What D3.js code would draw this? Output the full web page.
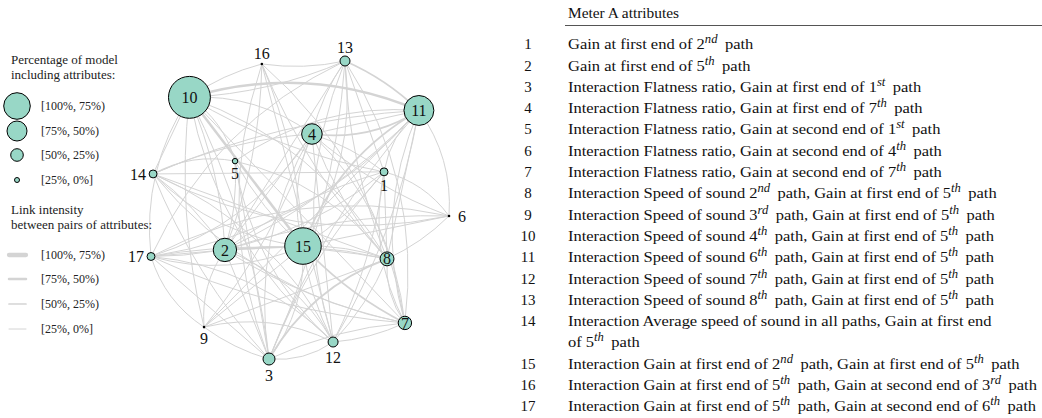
<!DOCTYPE html>
<html><head><meta charset="utf-8">
<script src="https://cdn.jsdelivr.net/npm/d3@7"></script>
<style>body{margin:0;background:#fff}svg{display:block}</style>
</head><body>
<svg id="c" width="1042" height="418"></svg>
<script>
// ---- data ----
const nodeIds = [1,2,3,4,5,6,7,8,9,10,11,12,13,14,15,16,17];
// layout coordinates (unit square, as produced by the graph layout)
const layoutX = [0.782,0.248,0.396,0.540,0.282,1.000,0.852,0.792,0.178,0.129,0.899,0.611,0.651,0.007,0.510,0.372,0.000];
const layoutY = [0.372,0.634,1.000,0.245,0.336,0.520,0.879,0.664,0.893,0.122,0.166,0.943,0.000,0.379,0.621,0.010,0.656];
// percentage of models including the attribute
const nodePct = [3.4,29.5,7.8,22.8,1.6,0.5,9.7,10.5,0.5,95,48.4,5.4,5.4,3.4,72,0.5,3.4];
// label placement for small nodes: c=center, t=top, b=bottom, l=left, r=right
const labelPos = ["b","c","b","c","b","r","c","c","b","c","c","b","t","l","c","t","l"];
// links: [source, target, intensity class 1..4]
const links = [
 [10,11,3],[10,15,3],[11,15,2],[13,11,2],[15,7,2],[3,8,2],[2,15,2],[4,11,2],
 [10,16,1],[10,13,1],[10,4,1],[10,14,1],[10,17,1],[10,2,1],[10,1,1],[10,8,1],[10,7,1],[10,12,1],[10,3,1],[10,9,1],[10,5,1],
 [11,4,1],[11,1,1],[11,2,1],[11,14,1],[11,17,1],[11,8,1],[11,7,1],[11,12,1],[11,3,1],[11,6,1],[11,9,1],[11,5,1],
 [13,16,1],[13,4,1],[13,15,1],[13,2,1],[13,12,1],[13,3,1],[13,8,1],[13,7,1],[13,1,1],[13,17,1],
 [16,15,1],[16,8,1],[16,7,1],[16,12,1],[16,3,1],[16,2,1],
 [4,14,1],[4,17,1],[4,2,1],[4,15,1],[4,1,1],[4,8,1],[4,7,1],[4,12,1],[4,3,1],[4,9,1],[4,6,1],
 [14,5,1],[14,1,1],[14,15,1],[14,2,1],[14,3,1],[14,12,1],[14,8,1],[14,7,1],
 [5,2,1],[5,15,1],[5,8,1],[5,3,1],[5,12,1],
 [1,15,1],[1,2,1],[1,17,1],[1,8,1],[1,7,1],[1,12,1],[1,3,1],[1,6,1],
 [6,15,1],[6,17,1],[6,8,1],[6,2,1],[6,14,1],
 [17,2,1],[17,15,1],[17,8,1],[17,7,1],[17,12,1],[17,3,1],[17,9,1],
 [2,8,1],[2,7,1],[2,12,1],[2,3,1],[2,9,1],
 [15,8,1],[15,12,1],[15,3,1],[15,9,1],
 [8,7,1],[8,12,1],[9,3,1],[9,12,1],[9,8,1],[3,12,1],[3,7,1],[12,7,1]
];
const sizeLegendLabels = ["[100%, 75%)","[75%, 50%)","[50%, 25%)","[25%, 0%]"];
const linkLegendLabels = ["[100%, 75%)","[75%, 50%)","[50%, 25%)","[25%, 0%]"];
const tableTitle = "Meter A attributes";
const attrNumbers = ["1","2","3","4","5","6","7","8","9","10","11","12","13","14","15","16","17"];
const attrLabels = [
 ["Gain at first end of 2^{nd} path"],
 ["Gain at first end of 5^{th} path"],
 ["Interaction Flatness ratio, Gain at first end of 1^{st} path"],
 ["Interaction Flatness ratio, Gain at first end of 7^{th} path"],
 ["Interaction Flatness ratio, Gain at second end of 1^{st} path"],
 ["Interaction Flatness ratio, Gain at second end of 4^{th} path"],
 ["Interaction Flatness ratio, Gain at second end of 7^{th} path"],
 ["Interaction Speed of sound 2^{nd} path, Gain at first end of 5^{th} path"],
 ["Interaction Speed of sound 3^{rd} path, Gain at first end of 5^{th} path"],
 ["Interaction Speed of sound 4^{th} path, Gain at first end of 5^{th} path"],
 ["Interaction Speed of sound 6^{th} path, Gain at first end of 5^{th} path"],
 ["Interaction Speed of sound 7^{th} path, Gain at first end of 5^{th} path"],
 ["Interaction Speed of sound 8^{th} path, Gain at first end of 5^{th} path"],
 ["Interaction Average speed of sound in all paths, Gain at first end","of 5^{th} path"],
 ["Interaction Gain at first end of 2^{nd} path, Gain at first end of 5^{th} path"],
 ["Interaction Gain at first end of 5^{th} path, Gain at second end of 3^{rd} path"],
 ["Interaction Gain at first end of 5^{th} path, Gain at second end of 6^{th} path"]
];

// ---- drawing ----
const svg = d3.select("#c");
const serif = "'Liberation Serif','DejaVu Serif',serif";
const fill = "#98d7c6", edgeCol = "#d4d4d4";

const x = d3.scaleLinear().domain([0,1]).range([151,449]);
const y = d3.scaleLinear().domain([0,1]).range([61,359]);
const r = d3.scaleSqrt().domain([0,100]).range([0,21.5]);
const w = d3.scaleOrdinal().domain([1,2,3,4]).range([1,1.7,2.5,3.5]);

const nodes = nodeIds.map((id,i)=>({id, x:x(layoutX[i]), y:y(layoutY[i]), r:Math.max(1.4,r(nodePct[i])), pos:labelPos[i]}));
const byId = new Map(nodes.map(n=>[n.id,n]));

const gL = svg.append("g");
links.forEach((l,i)=>{
  const a = byId.get(l[0]), b = byId.get(l[1]);
  const dx=b.x-a.x, dy=b.y-a.y;
  const curv = ((i*7)%5-2)*0.09;
  const mx=(a.x+b.x)/2 - dy*curv, my=(a.y+b.y)/2 + dx*curv;
  gL.append("path").attr("d",`M${a.x},${a.y}Q${mx},${my} ${b.x},${b.y}`)
    .attr("fill","none").attr("stroke",edgeCol).attr("stroke-width",w(l[2]));
});

const gN = svg.append("g");
nodes.forEach(n=>{
  if (n.r<2) {
    gN.append("circle").attr("cx",n.x).attr("cy",n.y).attr("r",1.3).attr("fill","#000");
  } else {
    gN.append("circle").attr("cx",n.x).attr("cy",n.y).attr("r",n.r).attr("fill",fill).attr("stroke","#000").attr("stroke-width",1);
  }
  let tx=n.x, ty=n.y, anchor="middle";
  if (n.pos==="t") ty=n.y-n.r-9;
  if (n.pos==="b") ty=n.y+n.r+10;
  if (n.pos==="l") { tx=n.x-n.r-3; anchor="end"; }
  if (n.pos==="r") { tx=n.x+9; anchor="start"; }
  gN.append("text").attr("x",tx).attr("y",ty).attr("dy","0.35em").attr("text-anchor",anchor)
    .attr("font-family",serif).attr("font-size",16).attr("fill","#111").text(n.id);
});

// legends
const gLeg = svg.append("g").attr("font-family",serif).attr("fill","#222");
gLeg.append("text").attr("x",11).attr("y",64).attr("font-size",13).text("Percentage of model");
gLeg.append("text").attr("x",11).attr("y",79).attr("font-size",13).text("including attributes:");
const legR = [13.3,10,6.3,2.5], legY=[106,131,155,180];
sizeLegendLabels.forEach((t,i)=>{
  gLeg.append("circle").attr("cx",17).attr("cy",legY[i]).attr("r",legR[i]).attr("fill",fill).attr("stroke","#000");
  gLeg.append("text").attr("x",41).attr("y",legY[i]).attr("dy","0.35em").attr("font-size",12).text(t);
});
gLeg.append("text").attr("x",11).attr("y",214).attr("font-size",13).text("Link intensity");
gLeg.append("text").attr("x",11).attr("y",229).attr("font-size",13).text("between pairs of attributes:");
const lkY=[255,279,304,329];
linkLegendLabels.forEach((t,i)=>{
  gLeg.append("line").attr("x1",9).attr("x2",26).attr("y1",lkY[i]).attr("y2",lkY[i])
    .attr("stroke",edgeCol).attr("stroke-width",w(4-i)+ (i===0?0.8:0)).attr("stroke-linecap","round");
  gLeg.append("text").attr("x",41).attr("y",lkY[i]).attr("dy","0.35em").attr("font-size",12).text(t);
});

// table
const gT = svg.append("g").attr("font-family",serif).attr("fill","#111");
gT.append("line").attr("x1",565).attr("x2",1042).attr("y1",25.5).attr("y2",25.5).attr("stroke","#555").attr("stroke-width",1);
const gTxt = gT.append("g").attr("transform","translate(568,0) scale(1.1,1)");
gTxt.append("text").attr("x",0).attr("y",13).attr("dy","0.35em").attr("font-size",14).text(tableTitle);
const rowY = [44,65.3,86.6,107.9,129.2,150.5,171.8,193.1,214.4,235.7,257,278.3,299.6,320.9,363.5,384.8,406.1];
function addRich(sel, str){
  const parts = str.split(/(\^\{[^}]*\})/);
  parts.forEach(p=>{
    if (!p) return;
    if (p.startsWith("^{")) {
      sel.append("tspan").attr("font-style","italic").attr("font-size",11.5).attr("dy",-6).text(p.slice(2,-1));
      sel.append("tspan").attr("dy",6).text("\u2009");
    } else sel.append("tspan").text(p);
  });
}
attrLabels.forEach((lines,i)=>{
  gT.append("text").attr("x",528).attr("y",rowY[i]).attr("dy","0.35em").attr("text-anchor","middle").attr("font-size",15).text(attrNumbers[i]);
  lines.forEach((ln,j)=>{
    const t = gTxt.append("text").attr("x",0).attr("y",rowY[i]+j*21.3).attr("dy","0.35em").attr("font-size",15);
    addRich(t, ln);
  });
});
</script>
</body></html>
